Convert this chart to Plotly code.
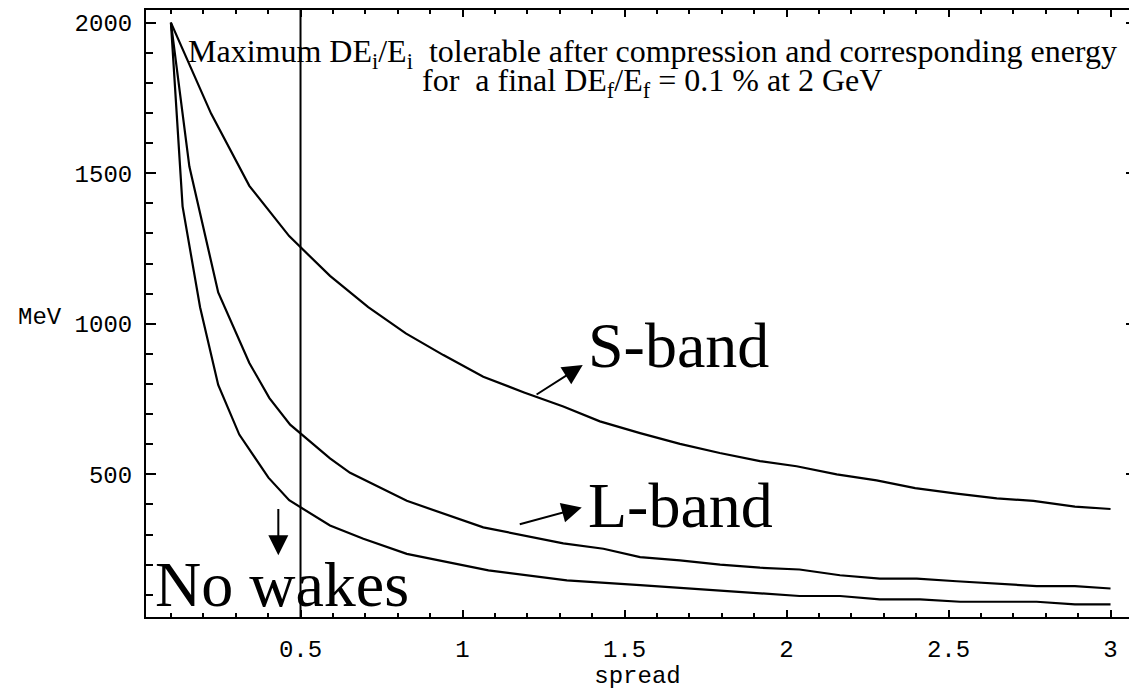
import plotly.graph_objects as go

# ---- data ----
s_band_x = [0.1, 0.224, 0.342, 0.465, 0.591, 0.709, 0.825, 0.941, 1.064, 1.19, 1.311, 1.424,
            1.548, 1.671, 1.794, 1.918, 2.031, 2.155, 2.278, 2.397, 2.525, 2.649, 2.762, 2.890, 3.0]
s_band_y = [2000, 1698, 1458, 1291, 1159, 1055, 968, 896, 824, 772, 725, 676,
            637, 601, 571, 544, 527, 500, 480, 454, 436, 420, 412, 393, 385]

l_band_x = [0.1, 0.157, 0.246, 0.342, 0.404, 0.468, 0.591, 0.653, 0.828, 1.064, 1.311, 1.435,
            1.548, 1.671, 1.795, 1.918, 2.04, 2.165, 2.288, 2.402, 2.525, 2.649, 2.772, 2.890, 3.0]
l_band_y = [2000, 1522, 1104, 870, 753, 665, 553, 505, 412, 324, 271, 253,
            225, 214, 200, 190, 184, 165, 154, 154, 145, 137, 129, 129, 121]

no_wakes_x = [0.1, 0.136, 0.19, 0.246, 0.311, 0.401, 0.465, 0.591, 0.694, 0.828, 1.08, 1.322,
              1.548, 1.795, 1.918, 2.04, 2.165, 2.288, 2.412, 2.536, 2.66, 2.772, 2.890, 3.0]
no_wakes_y = [2000, 1390, 1055, 797, 632, 489, 414, 330, 286, 236, 181, 148,
              132, 115, 105, 96, 96, 85, 85, 77, 77, 77, 68, 68]

vline_x = 0.5
x_major_ticks = [0.5, 1, 1.5, 2, 2.5, 3]
x_tick_labels = ["0.5", "1", "1.5", "2", "2.5", "3"]
y_major_ticks = [500, 1000, 1500, 2000]
y_tick_labels = ["500", "1000", "1500", "2000"]

XR = [0.0231, 3.057]
YR = [26.3, 2041.9]

MONO = "Liberation Mono"
SERIF = "Liberation Serif"

fig = go.Figure()
for xs, ys in [(s_band_x, s_band_y), (l_band_x, l_band_y), (no_wakes_x, no_wakes_y)]:
    fig.add_trace(go.Scatter(x=xs, y=ys, mode="lines",
                             line=dict(color="black", width=2.2), showlegend=False,
                             hoverinfo="skip"))

# invisible trace to activate the mirror axes
fig.add_trace(go.Scatter(x=[XR[0]], y=[YR[0]], xaxis="x2", yaxis="y2", mode="markers",
                         marker=dict(opacity=0), showlegend=False, hoverinfo="skip"))

fig.add_shape(type="line", xref="x", yref="paper", x0=vline_x, x1=vline_x, y0=0, y1=1,
              line=dict(color="black", width=2))

fig.update_layout(
    width=1129, height=690,
    margin=dict(l=146, r=0, t=10, b=73),
    paper_bgcolor="white", plot_bgcolor="white",
    xaxis=dict(range=XR, tickmode="array", tickvals=x_major_ticks, ticktext=x_tick_labels,
               ticks="inside", ticklen=7, tickwidth=2, tickcolor="black",
               showline=True, linecolor="black", linewidth=2, showgrid=False, zeroline=False,
               tickfont=dict(family=MONO, size=24, color="black"),
               minor=dict(dtick=0.1, tick0=0, ticks="inside", ticklen=4, tickwidth=2,
                          tickcolor="black", showgrid=False),
               title=dict(text="spread", font=dict(family=MONO, size=24, color="black"),
                          standoff=4),
               ticklabelstandoff=9),
    yaxis=dict(range=YR, tickmode="array", tickvals=y_major_ticks, ticktext=y_tick_labels,
               ticks="inside", ticklen=10, tickwidth=2, tickcolor="black",
               showline=True, linecolor="black", linewidth=2, showgrid=False, zeroline=False,
               tickfont=dict(family=MONO, size=24, color="black"),
               minor=dict(dtick=100, tick0=0, ticks="inside", ticklen=7, tickwidth=2,
                          tickcolor="black", showgrid=False),
               ticklabelstandoff=7),
    xaxis2=dict(range=XR, overlaying="x", side="top", tickmode="array",
                tickvals=x_major_ticks, showticklabels=False,
                ticks="inside", ticklen=7, tickwidth=2, tickcolor="black",
                showline=True, linecolor="black", linewidth=2, showgrid=False, zeroline=False,
                minor=dict(dtick=0.1, tick0=0, ticks="inside", ticklen=4, tickwidth=2,
                           tickcolor="black", showgrid=False)),
    yaxis2=dict(range=YR, overlaying="y", side="right", tickmode="array",
                tickvals=y_major_ticks, showticklabels=False,
                ticks="inside", ticklen=3, tickwidth=2, tickcolor="black",
                showline=False, showgrid=False, zeroline=False),
)

# y-axis label (horizontal)
fig.add_annotation(text="MeV", xref="paper", yref="y", x=-0.083, y=1020, xanchor="right",
                   yanchor="middle", showarrow=False,
                   font=dict(family=MONO, size=24, color="black"))

# title lines inside plot
fig.add_annotation(text="Maximum DE<sub>i</sub>/E<sub>i</sub>  tolerable after compression and corresponding energy",
                   x=1.585, y=1898, xref="x", yref="y", showarrow=False,
                   xanchor="center", yanchor="middle",
                   font=dict(family=SERIF, size=32, color="black"))
fig.add_annotation(text="for  a final DE<sub>f</sub>/E<sub>f</sub> = 0.1 % at 2 GeV",
                   x=1.585, y=1800, xref="x", yref="y", showarrow=False,
                   xanchor="center", yanchor="middle",
                   font=dict(family=SERIF, size=32, color="black"))

# band labels
big = dict(family=SERIF, size=64, color="black")
fig.add_annotation(text="S-band", x=1.382, y=928, xref="x", yref="y", showarrow=False,
                   xanchor="left", yanchor="middle", font=big)
fig.add_annotation(text="L-band", x=1.382, y=397, xref="x", yref="y", showarrow=False,
                   xanchor="left", yanchor="middle", font=big)
fig.add_annotation(text="No wakes", x=0.046, y=133, xref="x", yref="y", showarrow=False,
                   xanchor="left", yanchor="middle", font=big)

# arrows
arrow = dict(showarrow=True, arrowhead=2, arrowsize=2.0, arrowwidth=2, arrowcolor="black",
             text="", xref="x", yref="y", axref="x", ayref="y")
fig.add_annotation(x=1.371, y=863, ax=1.224, ay=762, **arrow)
fig.add_annotation(x=1.368, y=390, ax=1.172, ay=333, **arrow)
fig.add_annotation(x=0.4315, y=231, ax=0.4315, ay=390, **arrow)

fig.write_html("out.html")
